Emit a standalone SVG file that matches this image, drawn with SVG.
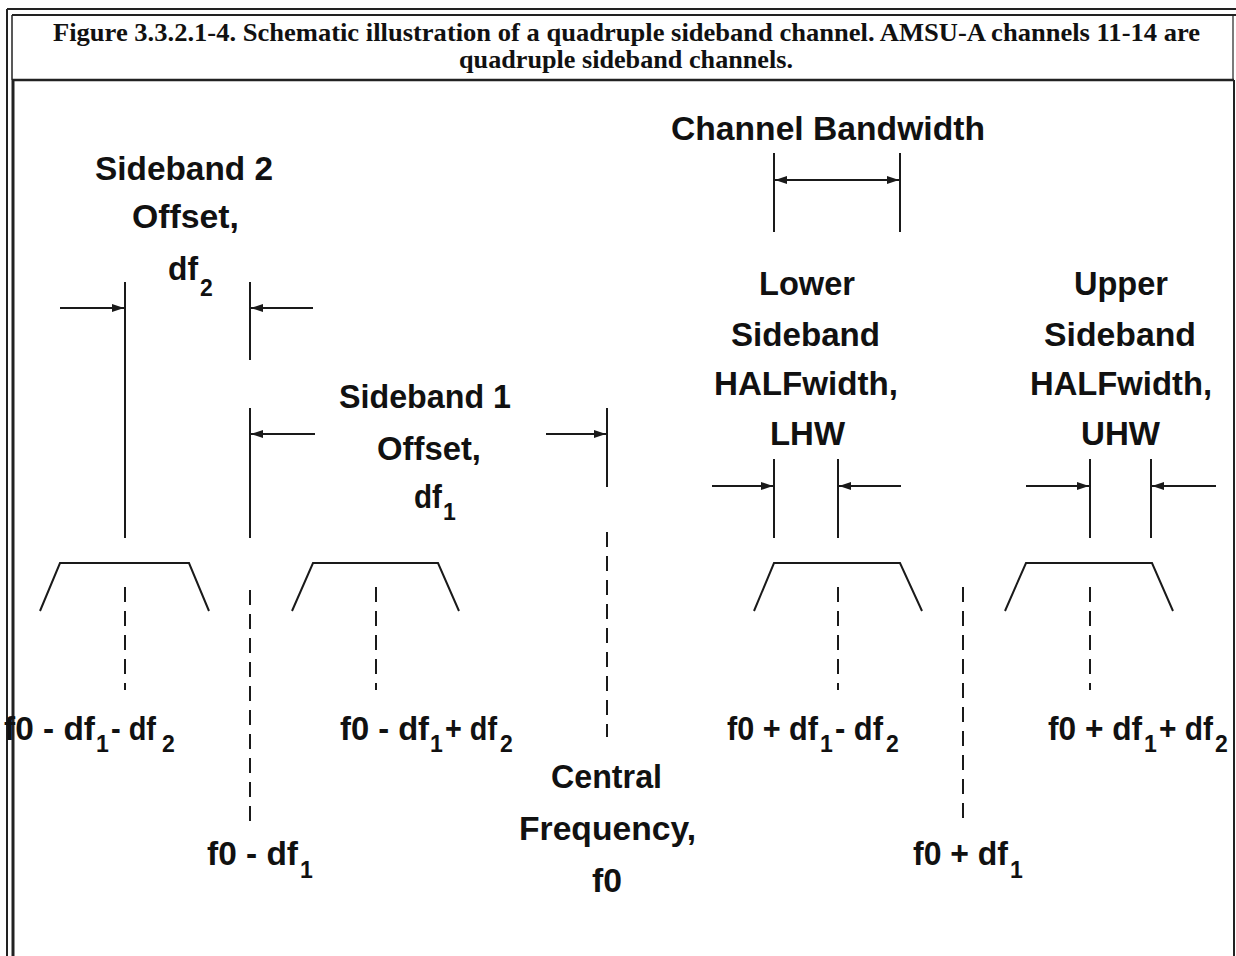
<svg xmlns="http://www.w3.org/2000/svg" width="1236" height="956" viewBox="0 0 1236 956">
<style>
.fr{stroke:#222;fill:none}
.ln{stroke:#1a1a1a;stroke-width:2;fill:none}
.ds{stroke:#1a1a1a;stroke-width:2;fill:none;stroke-dasharray:15 9}
.tr{stroke:#1a1a1a;stroke-width:2;fill:none;stroke-linejoin:miter}
.ar{stroke:#1a1a1a;stroke-width:2.2;fill:none;marker-end:url(#ah)}
.t{font-family:"Liberation Serif","Times New Roman",serif;font-weight:bold;font-size:26px;fill:#111}
.l{font-family:"Liberation Sans",Arial,sans-serif;font-weight:bold;font-size:34px;fill:#111}
.s{font-size:23px}
</style>
<defs>
<marker id="ah" viewBox="0 0 12 8" refX="12" refY="4" markerWidth="12" markerHeight="8" markerUnits="userSpaceOnUse" orient="auto-start-reverse">
<path d="M0,0 L12,4 L0,8 z" fill="#1a1a1a"/>
</marker>
</defs>
<rect width="1236" height="956" fill="#fff"/>
<g id="frame">
<line class="fr" x1="7" y1="9" x2="1236" y2="9" stroke-width="2"/>
<line class="fr" x1="7" y1="9" x2="7" y2="956" stroke-width="2"/>
<line class="fr" x1="12" y1="15" x2="1236" y2="15" stroke-width="2"/>
<line class="fr" x1="12" y1="15" x2="12" y2="80" stroke-width="1.5"/>
<line class="fr" x1="13" y1="80" x2="13" y2="956" stroke-width="3"/>
<line class="fr" x1="12" y1="80" x2="1234" y2="80" stroke-width="2.5"/>
<line class="fr" x1="1233" y1="15" x2="1233" y2="80" stroke-width="1.2"/>
<line class="fr" x1="1234" y1="80" x2="1234" y2="956" stroke-width="2"/>
</g>
<g id="title">
<text class="t" x="53" y="41" textLength="1147" lengthAdjust="spacingAndGlyphs">Figure 3.3.2.1-4.  Schematic illustration of a quadruple sideband channel.  AMSU-A channels 11-14 are</text>
<text class="t" x="459" y="68" textLength="334" lengthAdjust="spacingAndGlyphs">quadruple sideband channels.</text>
</g>
<g id="connectors">
<line class="ln" x1="125" y1="282" x2="125" y2="538"/>
<line class="ln" x1="250" y1="282" x2="250" y2="360"/>
<line class="ln" x1="250" y1="408" x2="250" y2="538"/>
<line class="ln" x1="607" y1="408" x2="607" y2="487"/>
<line class="ln" x1="774" y1="153" x2="774" y2="232"/>
<line class="ln" x1="900" y1="153" x2="900" y2="232"/>
<line class="ln" x1="774" y1="459" x2="774" y2="538"/>
<line class="ln" x1="838" y1="459" x2="838" y2="538"/>
<line class="ln" x1="1090" y1="459" x2="1090" y2="538"/>
<line class="ln" x1="1151" y1="459" x2="1151" y2="538"/>
<line class="ar" x1="60" y1="308" x2="124" y2="308"/>
<line class="ar" x1="313" y1="308" x2="251" y2="308"/>
<line class="ar" x1="315" y1="434" x2="251" y2="434"/>
<line class="ar" x1="546" y1="434" x2="606" y2="434"/>
<line class="ar" x1="775" y1="180" x2="899" y2="180" style="marker-start:url(#ah)"/>
<line class="ar" x1="712" y1="486" x2="773" y2="486"/>
<line class="ar" x1="901" y1="486" x2="839" y2="486"/>
<line class="ar" x1="1026" y1="486" x2="1089" y2="486"/>
<line class="ar" x1="1216" y1="486" x2="1152" y2="486"/>
<line class="ds" x1="125" y1="587" x2="125" y2="690"/>
<line class="ds" x1="250" y1="590" x2="250" y2="822"/>
<line class="ds" x1="376" y1="587" x2="376" y2="690"/>
<line class="ds" x1="607" y1="532" x2="607" y2="737"/>
<line class="ds" x1="838" y1="587" x2="838" y2="690"/>
<line class="ds" x1="963" y1="587" x2="963" y2="818"/>
<line class="ds" x1="1090" y1="587" x2="1090" y2="690"/>
</g>
<g id="passband-1"><polyline class="tr" points="40,611 60,563 189,563 209,611"/></g>
<g id="passband-2"><polyline class="tr" points="292,611 313,563 438,563 459,611"/></g>
<g id="passband-3"><polyline class="tr" points="754,611 774,563 900,563 922,611"/></g>
<g id="passband-4"><polyline class="tr" points="1005,611 1026,563 1152,563 1173,611"/></g>
<g id="label-sideband2">
<text class="l" x="95" y="180" textLength="178" lengthAdjust="spacingAndGlyphs">Sideband 2</text>
<text class="l" x="132" y="228" textLength="107" lengthAdjust="spacingAndGlyphs">Offset,</text>
<text class="l"><tspan x="168" y="280" textLength="30" lengthAdjust="spacingAndGlyphs">df</tspan><tspan class="s" x="200" y="296">2</tspan></text>
</g>
<g id="label-sideband1">
<text class="l" x="339" y="408" textLength="172" lengthAdjust="spacingAndGlyphs">Sideband 1</text>
<text class="l" x="377" y="460" textLength="104" lengthAdjust="spacingAndGlyphs">Offset,</text>
<text class="l"><tspan x="414" y="508" textLength="28" lengthAdjust="spacingAndGlyphs">df</tspan><tspan class="s" x="443" y="520">1</tspan></text>
</g>
<g id="label-bandwidth">
<text class="l" x="671" y="140" textLength="314" lengthAdjust="spacingAndGlyphs">Channel Bandwidth</text>
</g>
<g id="label-lhw">
<text class="l" x="759" y="295" textLength="96" lengthAdjust="spacingAndGlyphs">Lower</text>
<text class="l" x="731" y="346" textLength="149" lengthAdjust="spacingAndGlyphs">Sideband</text>
<text class="l" x="714" y="395" textLength="184" lengthAdjust="spacingAndGlyphs">HALFwidth,</text>
<text class="l" x="770" y="445" textLength="75" lengthAdjust="spacingAndGlyphs">LHW</text>
</g>
<g id="label-uhw">
<text class="l" x="1074" y="295" textLength="94" lengthAdjust="spacingAndGlyphs">Upper</text>
<text class="l" x="1044" y="346" textLength="152" lengthAdjust="spacingAndGlyphs">Sideband</text>
<text class="l" x="1030" y="395" textLength="182" lengthAdjust="spacingAndGlyphs">HALFwidth,</text>
<text class="l" x="1081" y="445" textLength="79" lengthAdjust="spacingAndGlyphs">UHW</text>
</g>
<g id="label-f0-df1-df2">
<text class="l"><tspan x="4" y="740" textLength="91" lengthAdjust="spacingAndGlyphs">f0 - df</tspan><tspan class="s" x="96" y="752">1</tspan><tspan x="111" y="740" textLength="45" lengthAdjust="spacingAndGlyphs">- df</tspan><tspan class="s" x="162" y="752">2</tspan></text>
</g>
<g id="label-f0-df1">
<text class="l"><tspan x="207" y="865" textLength="91" lengthAdjust="spacingAndGlyphs">f0 - df</tspan><tspan class="s" x="300" y="878">1</tspan></text>
</g>
<g id="label-f0-df1p-df2">
<text class="l"><tspan x="340" y="740" textLength="89" lengthAdjust="spacingAndGlyphs">f0 - df</tspan><tspan class="s" x="430" y="752">1</tspan><tspan x="445" y="740" textLength="52" lengthAdjust="spacingAndGlyphs">+ df</tspan><tspan class="s" x="500" y="752">2</tspan></text>
</g>
<g id="label-central">
<text class="l" x="551" y="788" textLength="111" lengthAdjust="spacingAndGlyphs">Central</text>
<text class="l" x="519" y="840" textLength="177" lengthAdjust="spacingAndGlyphs">Frequency,</text>
<text class="l" x="592" y="892" textLength="30" lengthAdjust="spacingAndGlyphs">f0</text>
</g>
<g id="label-f0p-df1-df2">
<text class="l"><tspan x="727" y="740" textLength="91" lengthAdjust="spacingAndGlyphs">f0 + df</tspan><tspan class="s" x="820" y="752">1</tspan><tspan x="835" y="740" textLength="48" lengthAdjust="spacingAndGlyphs">- df</tspan><tspan class="s" x="886" y="752">2</tspan></text>
</g>
<g id="label-f0p-df1">
<text class="l"><tspan x="913" y="865" textLength="95" lengthAdjust="spacingAndGlyphs">f0 + df</tspan><tspan class="s" x="1010" y="878">1</tspan></text>
</g>
<g id="label-f0p-df1p-df2">
<text class="l"><tspan x="1048" y="740" textLength="94" lengthAdjust="spacingAndGlyphs">f0 + df</tspan><tspan class="s" x="1144" y="752">1</tspan><tspan x="1159" y="740" textLength="54" lengthAdjust="spacingAndGlyphs">+ df</tspan><tspan class="s" x="1215" y="752">2</tspan></text>
</g>
</svg>
